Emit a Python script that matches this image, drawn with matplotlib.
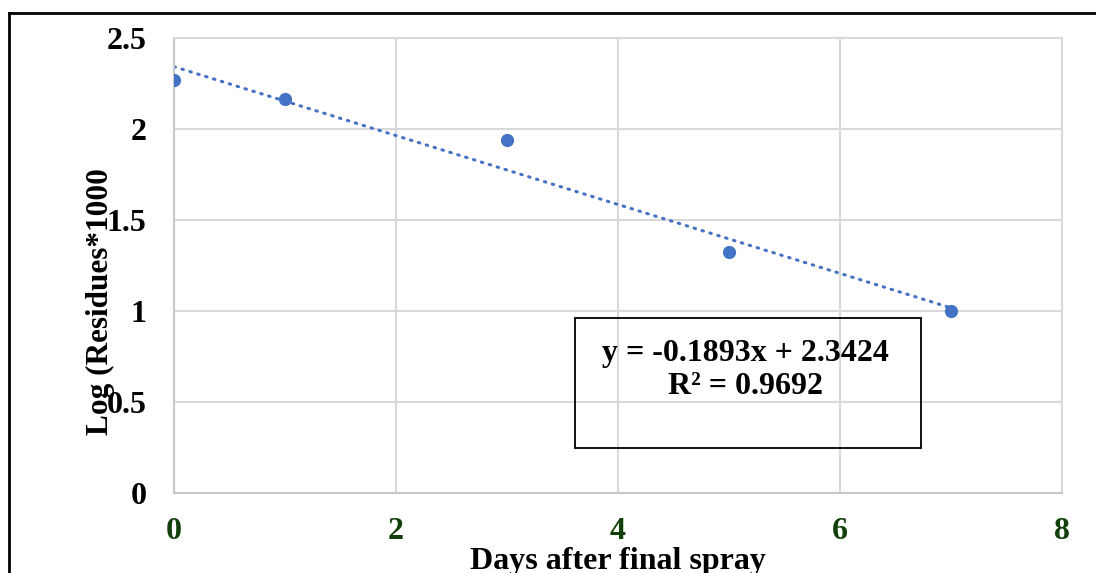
import numpy as np
import matplotlib.pyplot as plt
from matplotlib.lines import Line2D

days = [0, 1, 3, 5, 7]
log_res = [2.27, 2.165, 1.94, 1.324, 1.0]
slope = -0.1893
intercept = 2.3424
r2 = 0.9692
xticks = [0, 2, 4, 6, 8]
yticks = [0, 0.5, 1, 1.5, 2, 2.5]

plt.rcParams['font.family'] = ['Liberation Serif', 'DejaVu Serif']
plt.rcParams['font.weight'] = 'bold'

fig = plt.figure(figsize=(10.96, 5.73), dpi=100)
ax = fig.add_axes([0.1588, 0.1396, 0.8102, 0.7941])

blue = '#4472C4'
grid = '#D9D9D9'

# trendline over the data range
xt = np.array([min(days), max(days)])
ax.plot(xt, slope * xt + intercept, color=blue, lw=2.2,
        linestyle=(0, (0.5, 2.2)), dash_capstyle='round', zorder=2)
ax.plot(days, log_res, 'o', color=blue, ms=8.5, zorder=3)

ax.set_xlim(0, 8)
ax.set_ylim(0, 2.5)
ax.set_xticks(xticks)
ax.set_yticks(yticks)
ax.set_xticklabels([str(t) for t in xticks], color='#12400A', fontsize=23, fontweight='bold')
ax.set_yticklabels(['0', '0.5', '1', '1.5', '2', '2.5'], fontsize=23, fontweight='bold')
ax.tick_params(length=0)
ax.tick_params(axis='y', pad=20)
ax.tick_params(axis='x', pad=17)
ax.grid(True, color=grid, lw=1.5)
ax.set_axisbelow(True)
for s in ax.spines.values():
    s.set_color(grid)
    s.set_linewidth(1.5)
ax.spines['left'].set_color('#C8C8C8')
ax.spines['bottom'].set_color('#C8C8C8')

# equation box
ax.text(0.644, 0.27, f'y = {slope}x + {intercept}\nR² = {r2}', transform=ax.transAxes,
        ha='center', va='center', fontsize=23, fontweight='bold', linespacing=1.2,
        zorder=5)
box_l, box_b = (575 - 174) / 888, (493 - 448) / 455
box_w, box_h = (921 - 575) / 888, (448 - 318) / 455
ax.add_patch(plt.Rectangle((box_l, box_b), box_w, box_h, transform=ax.transAxes,
                           fill=True, facecolor='none', edgecolor='black', lw=1.3, zorder=4))

fig.text(100 / 1096, 1 - 302 / 573, 'Log (Residues*1000', rotation=90, ha='center',
         va='center', fontsize=22.5, fontweight='bold')
fig.text(618 / 1096, 1 - 562 / 573, 'Days after final spray', ha='center', va='center',
         fontsize=23, fontweight='bold')

# outer frame (left and top visible)
fig.add_artist(Line2D([9 / 1096, 9 / 1096], [0, 1 - 13 / 573], color='black', lw=2,
                      transform=fig.transFigure))
fig.add_artist(Line2D([9 / 1096, 1], [1 - 13 / 573, 1 - 13 / 573], color='black', lw=2,
                      transform=fig.transFigure))

fig.savefig('out.png', dpi=100)
